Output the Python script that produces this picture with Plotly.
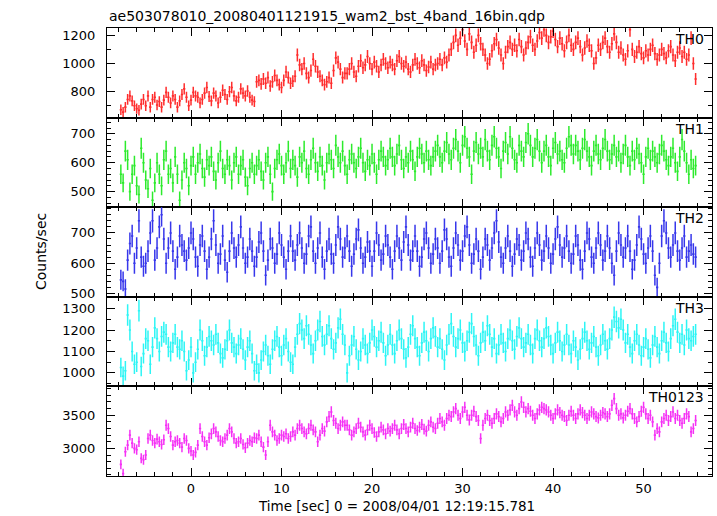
import numpy as np
import plotly.graph_objects as go
from plotly.subplots import make_subplots

# ---------------- data (0.25 s bins) ----------------
T_START = -7.75
BIN = 0.25
N_BINS = 255

TH0 = [672, 655, 690, 745, 770, 735, 700, 680, 668, 712, 745, 700, 770, 690, 745, 760, 705, 730, 690, 740,
       795, 760, 720, 770, 745, 690, 735, 780, 820, 760, 700, 740, 795, 770, 760, 720, 745, 790, 830, 765,
       735, 790, 770, 720, 760, 810, 780, 745, 800, 830, 770, 735, 760, 820, 790, 770, 805, 760, 740, 730,
       870, 880, 855, 890, 860, 900, 840, 870, 915, 880, 850, 830, 880, 940, 900, 860, 875, 910, 1060, 990,
       960, 1000, 930, 900, 950, 1030, 980, 940, 910, 880, 850, 870, 900, 860, 950, 1040, 1010, 960, 900, 930,
       930, 960, 1000, 940, 910, 980, 1020, 970, 990, 1050, 1000, 960, 1010, 980, 940, 990, 1030, 1000, 970, 1010,
       990, 960, 1020, 1050, 1000, 980, 1010, 960, 940, 990, 1030, 1000, 970, 1020, 990, 950, 975, 1010, 960, 990,
       1000, 1030, 990, 1040, 1010, 1060, 1100, 1150, 1200, 1130, 1180, 1240, 1160, 1100, 1210, 1150, 1080, 1130, 1200, 1140,
       1100, 1060, 1000, 1030, 1090, 1140, 1170, 1110, 1060, 1000, 1080, 1120, 1150, 1100, 1130, 1090, 1170, 1120, 1060, 1110,
       1150, 1190, 1130, 1100, 1160, 1220, 1180, 1240, 1200, 1150, 1190, 1230, 1170, 1120, 1180, 1140, 1090, 1150, 1200, 1130,
       1100, 1150, 1180, 1120, 1060, 1110, 1160, 1130, 1090, 1000, 1040, 1130, 1100, 1150, 1180, 1120, 1080, 1140, 1210, 1150,
       1080, 1110, 1060, 1030, 1090, 1240, 1100, 1050, 1080, 1120, 1070, 1040, 1090, 1060, 1100, 1130, 1070, 1030, 1060, 1100,
       1070, 1040, 1090, 1120, 1060, 1020, 1080, 1110, 1050, 1080, 1030, 1060, 1180, 1000, 890]

TH1 = [560, 530, 640, 610, 500, 560, 590, 520, 490, 650, 600, 540, 510, 580, 470, 530, 600, 560, 520, 610,
       640, 560, 580, 530, 620, 560, 470, 540, 600, 580, 520, 590, 620, 560, 600, 630, 580, 550, 610, 590,
       620, 570, 540, 600, 640, 580, 560, 610, 590, 540, 600, 620, 560, 590, 610, 550, 520, 580, 600, 560,
       590, 610, 570, 540, 600, 620, 560, 500, 580, 610, 630, 590, 560, 600, 640, 580, 610, 590, 550, 620,
       600, 640, 580, 560, 610, 650, 600, 570, 620, 590, 540, 600, 630, 610, 580, 660, 620, 600, 640, 590,
       560, 610, 630, 600, 580, 620, 650, 600, 570, 610, 590, 630, 600, 560, 610, 640, 620, 590, 610, 650,
       620, 590, 630, 660, 610, 580, 620, 600, 640, 610, 570, 620, 650, 630, 600, 640, 610, 590, 620, 640,
       660, 620, 600, 640, 670, 630, 610, 650, 680, 640, 600, 660, 690, 650, 620, 560, 640, 670, 630, 650,
       620, 680, 640, 610, 660, 690, 650, 620, 580, 640, 670, 630, 690, 650, 610, 600, 660, 640, 620, 670,
       700, 660, 620, 650, 680, 640, 600, 640, 660, 620, 590, 650, 670, 630, 640, 610, 600, 650, 690, 660,
       630, 660, 640, 610, 650, 680, 640, 620, 590, 640, 660, 630, 610, 650, 680, 640, 610, 630, 660, 620,
       640, 600, 630, 660, 620, 590, 640, 610, 650, 630, 600, 560, 620, 650, 610, 640, 620, 600, 630, 660,
       640, 610, 590, 620, 650, 600, 570, 620, 680, 640, 600, 560, 610, 580, 590]

TH2 = [545, 540, 515, 610, 665, 690, 600, 650, 740, 620, 590, 600, 640, 700, 740, 610, 650, 720, 760, 680,
       600, 650, 700, 640, 580, 620, 690, 660, 640, 610, 650, 700, 680, 620, 590, 660, 690, 640, 580, 620,
       680, 740, 660, 600, 630, 690, 610, 570, 640, 700, 650, 620, 660, 720, 650, 600, 620, 680, 640, 590,
       620, 670, 700, 640, 560, 610, 680, 650, 600, 630, 700, 660, 620, 580, 640, 690, 640, 610, 660, 700,
       650, 600, 630, 690, 720, 640, 600, 650, 700, 620, 580, 640, 680, 630, 600, 660, 720, 680, 620, 650,
       690, 640, 590, 630, 680, 710, 650, 600, 620, 670, 640, 590, 640, 700, 660, 610, 630, 690, 660, 620,
       580, 640, 690, 650, 610, 670, 720, 660, 610, 640, 690, 640, 590, 620, 680, 700, 650, 600, 630, 680,
       650, 600, 640, 710, 680, 620, 590, 650, 700, 660, 610, 640, 690, 720, 660, 600, 630, 680, 640, 580,
       620, 680, 660, 610, 650, 700, 740, 670, 620, 600, 650, 690, 640, 590, 630, 680, 660, 610, 640, 700,
       680, 620, 590, 650, 700, 660, 610, 640, 690, 650, 600, 630, 680, 720, 660, 620, 650, 690, 640, 600,
       630, 690, 660, 610, 580, 640, 700, 680, 620, 600, 650, 700, 660, 610, 640, 690, 650, 600, 560, 640,
       700, 660, 620, 650, 690, 640, 580, 610, 660, 720, 680, 630, 600, 650, 690, 640, 560, 520, 600, 690,
       740, 700, 650, 620, 660, 700, 640, 610, 650, 690, 620, 640, 660, 630, 620]

TH3 = [1025, 985, 1010, 1270, 1200, 1100, 1040, 1050, 1290, 1030, 1090, 1160, 1150, 1040, 1120, 1210, 1160, 1100, 1170, 1190,
       1180, 1120, 1100, 1140, 1180, 1120, 1110, 1150, 1100, 1010, 1060, 1120, 1000, 1050, 1110, 1200, 1150, 1080, 1120, 1170,
       1150, 1130, 1180, 1140, 1090, 1070, 1110, 1150, 1200, 1140, 1120, 1090, 1130, 1160, 1110, 1060, 1120, 1150, 1090, 1010,
       1040, 1000, 1060, 1100, 1130, 1080, 1040, 1110, 1150, 1170, 1120, 1080, 1130, 1160, 1100, 1050, 1040, 1120, 1180, 1230,
       1200, 1160, 1220, 1180, 1130, 1090, 1150, 1200, 1240, 1170, 1130, 1180, 1220, 1160, 1110, 1140, 1210, 1250, 1180, 1130,
       1000, 1080, 1130, 1170, 1110, 1060, 1100, 1160, 1130, 1090, 1140, 1200, 1170, 1120, 1150, 1190, 1140, 1080, 1130, 1180,
       1130, 1090, 1150, 1200, 1160, 1110, 1070, 1120, 1180, 1220, 1160, 1120, 1080, 1140, 1190, 1150, 1100, 1160, 1210, 1170,
       1120, 1160, 1110, 1060, 1130, 1180, 1230, 1170, 1120, 1160, 1200, 1140, 1100, 1150, 1190, 1230, 1170, 1130, 1080, 1140,
       1190, 1150, 1220, 1180, 1120, 1160, 1090, 1130, 1180, 1140, 1100, 1160, 1200, 1150, 1110, 1170, 1210, 1160, 1120, 1140,
       1180, 1130, 1090, 1160, 1200, 1150, 1120, 1160, 1210, 1170, 1130, 1090, 1140, 1190, 1150, 1100, 1130, 1180, 1130, 1090,
       1150, 1120, 1060, 1110, 1160, 1190, 1150, 1110, 1140, 1170, 1120, 1080, 1130, 1180, 1150, 1110, 1160, 1200, 1260, 1240,
       1210, 1250, 1200, 1140, 1180, 1120, 1090, 1150, 1180, 1130, 1080, 1120, 1160, 1110, 1070, 1130, 1170, 1120, 1090, 1150,
       1190, 1140, 1100, 1160, 1220, 1250, 1190, 1140, 1180, 1130, 1200, 1160, 1150, 1170, 1180]

TH0123 = [2760, 2620, 2950, 3050, 3200, 3080, 3000, 2980, 3100, 2850, 2830, 2900, 3150, 3200, 3120, 3080, 3140, 3100, 3060, 3130,
          3350, 3300, 3180, 3050, 3100, 3120, 3080, 3020, 3150, 3120, 3000, 2960, 2900, 2940, 3050, 3300, 3180, 3100, 3050, 3160,
          3220, 3300, 3250, 3180, 3120, 3100, 3150, 3200, 3300, 3250, 3150, 3080, 3100, 3150, 3060, 3010, 3080, 3120, 3100, 3160,
          3150, 3200, 3100, 3020, 2900, 3100, 3350, 3250, 3200, 3120, 3150, 3200, 3180, 3220, 3150, 3180, 3250, 3200, 3300, 3350,
          3300, 3250, 3220, 3300, 3350, 3280, 3250, 3100, 3200, 3300, 3260, 3400, 3480, 3550, 3420, 3380, 3300, 3350, 3400, 3350,
          3350, 3280, 3200, 3250, 3300, 3380, 3320, 3250, 3200, 3280, 3350, 3300, 3240, 3180, 3250, 3320, 3280, 3220, 3300, 3260,
          3300, 3350, 3280, 3220, 3300, 3360, 3300, 3250, 3320, 3380, 3300, 3270, 3320, 3360, 3290, 3260, 3350, 3400, 3320, 3300,
          3380, 3450, 3400, 3350, 3450, 3500, 3480, 3550, 3600, 3500, 3450, 3550, 3620, 3500, 3430, 3500, 3560, 3480, 3420, 3150,
          3350, 3450, 3500, 3420, 3380, 3450, 3520, 3480, 3400, 3450, 3550, 3500, 3580, 3650, 3550, 3500, 3600, 3700, 3620, 3550,
          3600, 3560, 3500, 3450, 3520, 3580, 3620, 3600, 3580, 3550, 3500, 3450, 3520, 3580, 3540, 3500, 3480, 3420, 3500, 3560,
          3500, 3450, 3520, 3580, 3540, 3500, 3450, 3500, 3550, 3520, 3480, 3460, 3500, 3540, 3520, 3480, 3520, 3650, 3750, 3600,
          3500, 3520, 3460, 3500, 3560, 3600, 3520, 3450, 3400, 3480, 3560, 3620, 3520, 3450, 3500, 3400, 3200, 3300, 3250, 3400,
          3450, 3500, 3420, 3480, 3550, 3450, 3500, 3420, 3380, 3450, 3520, 3480, 3250, 3300, 3420]

SERIES = [TH0, TH1, TH2, TH3, TH0123]
NAMES = ["TH0", "TH1", "TH2", "TH3", "TH0123"]
COLORS = ["rgb(255,45,45)", "rgb(45,235,45)", "rgb(55,55,235)", "rgb(45,245,245)", "rgb(245,50,245)"]
Y_RANGES = [[616, 1252], [446, 756], [489, 785], [937, 1355], [2584, 3935]]
Y_DTICK = [200, 100, 100, 100, 500]
Y_MINOR = [100, 20, 20, 50, 100]

TITLE = "ae503078010_20080401121915_wam2_bst_4band_16bin.qdp"
XTITLE = "Time [sec] 0 = 2008/04/01 12:19:15.781"
YTITLE = "Counts/sec"

times = T_START + BIN * np.arange(N_BINS)

FONT = "DejaVu Sans, Verdana, sans-serif"

fig = make_subplots(rows=5, cols=1, shared_xaxes=True, vertical_spacing=0)

for i, (vals, name, col) in enumerate(zip(SERIES, NAMES, COLORS)):
    v = np.array(vals, dtype=float)
    err = np.sqrt(2.0 * v)  # error bars as seen (~Poisson)
    fig.add_trace(go.Scatter(
        x=times, y=v, mode="markers",
        marker=dict(size=0.1, color=col),
        error_x=dict(type="constant", value=BIN / 2, width=0, thickness=1.6, color=col),
        error_y=dict(type="data", array=err, width=0, thickness=1.5, color=col),
        showlegend=False, cliponaxis=True, hoverinfo="skip",
    ), row=i + 1, col=1)

    fig.update_yaxes(
        range=Y_RANGES[i], dtick=Y_DTICK[i], tick0=0,
        ticks="inside", ticklen=8, tickwidth=1, tickcolor="black",
        minor=dict(ticks="inside", ticklen=4, dtick=Y_MINOR[i], tick0=0, tickcolor="black"),
        showline=True, linecolor="black", linewidth=1, mirror="allticks",
        showgrid=False, zeroline=False,
        tickfont=dict(family=FONT, size=13, color="black"),
        ticklabelstandoff=8,
        row=i + 1, col=1)

    fig.update_xaxes(
        range=[-9.28, 57.56], dtick=10, tick0=0,
        ticks="inside", ticklen=8, tickwidth=1, tickcolor="black",
        minor=dict(ticks="inside", ticklen=4, dtick=2, tick0=0, tickcolor="black"),
        showline=True, linecolor="black", linewidth=1, mirror="allticks",
        showgrid=False, zeroline=False,
        tickfont=dict(family=FONT, size=13, color="black"),
        row=i + 1, col=1)

    yref = "y domain" if i == 0 else f"y{i + 1} domain"
    fig.add_annotation(
        text=name, xref="paper", x=0.9906, xanchor="right",
        yref=yref, y=1.0, yanchor="top", yshift=-1,
        showarrow=False, font=dict(family=FONT, size=14, color="black"))

fig.add_annotation(text=TITLE, xref="paper", x=0, xanchor="left",
                   yref="paper", y=1, yanchor="middle", yshift=12,
                   showarrow=False, font=dict(family=FONT, size=14, color="black"))
fig.add_annotation(text=XTITLE, xref="paper", x=0.4785, xanchor="center",
                   yref="paper", y=0, yanchor="middle", yshift=-30,
                   showarrow=False, font=dict(family=FONT, size=13.5, color="black"))
fig.add_annotation(text=YTITLE, xref="paper", x=0, xanchor="center", xshift=-66,
                   yref="paper", y=0.5, yanchor="middle", textangle=-90,
                   showarrow=False, font=dict(family=FONT, size=14, color="black"))

fig.update_layout(
    width=717, height=516,
    margin=dict(l=107, r=5, t=28, b=40),
    paper_bgcolor="white", plot_bgcolor="white",
    font=dict(family=FONT, size=13, color="black"),
    hovermode=False,
)

fig.write_html("out.html", config={"displayModeBar": False},
               post_script="document.body.style.margin='0px';")
